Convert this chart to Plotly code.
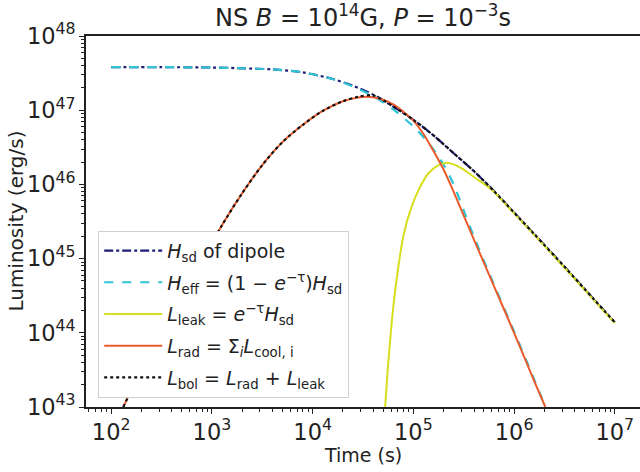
import plotly.graph_objects as go

# log10(time [s]) and log10(luminosity [erg/s])
t_sd = [2.0, 2.5, 3.0, 3.3, 3.6, 3.9, 4.2, 4.4, 4.6, 4.8, 5.0, 5.2, 5.4, 5.6, 5.8, 6.0, 6.2, 6.5, 6.8, 7.0]
L_sd = [47.58, 47.58, 47.575, 47.565, 47.55, 47.51, 47.42, 47.33, 47.21, 47.05, 46.87, 46.66, 46.42, 46.18, 45.91, 45.62, 45.33, 44.89, 44.44, 44.14]

t_eff = [2.0, 2.5, 3.0, 3.3, 3.6, 3.9, 4.2, 4.4, 4.6, 4.8, 5.0, 5.15, 5.25, 5.32, 5.4, 5.5, 5.6, 5.8, 6.0, 6.2, 6.31]
L_eff = [47.58, 47.58, 47.575, 47.565, 47.55, 47.51, 47.42, 47.32, 47.19, 47.01, 46.78, 46.56, 46.37, 46.22, 46.0, 45.65, 45.3, 44.65, 44.02, 43.37, 43.0]

t_leak = [4.72, 4.74, 4.76, 4.80, 4.85, 4.90, 4.97, 5.05, 5.15, 5.25, 5.32, 5.4, 5.5, 5.6, 5.74, 5.8, 6.0, 6.2, 6.5, 6.8, 7.0]
L_leak = [43.0, 43.4, 43.75, 44.34, 44.88, 45.3, 45.65, 45.92, 46.15, 46.26, 46.29, 46.27, 46.2, 46.1, 45.97, 45.9, 45.61, 45.32, 44.88, 44.43, 44.13]

t_rad = [2.12, 2.3, 2.5, 2.7, 2.9, 3.1, 3.3, 3.5, 3.7, 3.9, 4.1, 4.3, 4.45, 4.55, 4.65, 4.8, 4.9, 5.0, 5.1, 5.2, 5.3, 5.4, 5.5, 5.6, 5.8, 6.0, 6.2, 6.31]
L_rad = [43.0, 43.5, 44.0, 44.5, 44.97, 45.45, 45.88, 46.26, 46.57, 46.8, 46.99, 47.12, 47.17, 47.18, 47.16, 47.08, 46.98, 46.86, 46.68, 46.45, 46.2, 45.9, 45.58, 45.26, 44.63, 44.0, 43.35, 43.0]

t_bol = [2.12, 2.3, 2.5, 2.7, 2.9, 3.1, 3.3, 3.5, 3.7, 3.9, 4.1, 4.3, 4.45, 4.6, 4.8, 5.0, 5.2, 5.4, 5.6, 5.8, 6.0, 6.2, 6.5, 6.8, 7.0]
L_bol = [43.0, 43.5, 44.0, 44.5, 44.97, 45.45, 45.88, 46.26, 46.57, 46.8, 46.99, 47.12, 47.18, 47.2, 47.05, 46.87, 46.66, 46.42, 46.18, 45.91, 45.62, 45.33, 44.89, 44.44, 44.14]

names = [
    "<i>H</i><sub>sd</sub> of dipole",
    "<i>H</i><sub>eff</sub> = (1 − <i>e</i><sup>−τ</sup>)<i>H</i><sub>sd</sub>",
    "<i>L</i><sub>leak</sub> = <i>e</i><sup>−τ</sup><i>H</i><sub>sd</sub>",
    "<i>L</i><sub>rad</sub> = Σ<sub><i>i</i></sub><i>L</i><sub>cool, i</sub>",
    "<i>L</i><sub>bol</sub> = <i>L</i><sub>rad</sub> + <i>L</i><sub>leak</sub>",
]
series = [(t_sd, L_sd), (t_eff, L_eff), (t_leak, L_leak), (t_rad, L_rad), (t_bol, L_bol)]
colors = ["#1c1c78", "#2ec4d6", "#d6df1e", "#ea5a2c", "#111111"]
dashes = ["dashdot", "dash", "solid", "solid", "dot"]
widths = [2.2, 2.2, 2.0, 2.0, 2.2]

fig = go.Figure()
for k, ((tx, ly), nm, c, d, w) in enumerate(zip(series, names, colors, dashes, widths)):
    fig.add_trace(go.Scatter(
        x=[10 ** v for v in tx], y=[10 ** v for v in ly], name=nm, mode="lines",
        legendgroup=f"g{k}",
        line=dict(color=c, dash=d, width=w, shape="spline", smoothing=0.8),
    ))

font = "DejaVu Sans"
fig.update_layout(
    width=640, height=472,
    margin=dict(l=86, r=0, t=36, b=65),
    paper_bgcolor="white", plot_bgcolor="white",
    font=dict(family=font, size=18, color="#222"),
    title=dict(text="NS <i>B</i> = 10<sup>14</sup>G, <i>P</i> = 10<sup>−3</sup>s",
               x=0.5, xref="paper", y=0.962, yref="container", yanchor="middle",
               font=dict(size=24, color="#222")),
    legend=dict(x=0.022, y=0.025, xanchor="left", yanchor="bottom",
                bgcolor="white", bordercolor="#d0d0d0", borderwidth=1,
                font=dict(size=19, color="#222"), tracegroupgap=4, itemwidth=58),
    showlegend=True,
    annotations=[
        dict(text="Time (s)", xref="paper", yref="paper", x=0.5, y=-0.13,
             xanchor="center", yanchor="middle", showarrow=False, font=dict(size=19)),
        dict(text="Luminosity (erg/s)", xref="paper", yref="paper", x=-0.128, y=0.5,
             xanchor="center", yanchor="middle", textangle=-90, showarrow=False, font=dict(size=20)),
    ],
)
fig.update_xaxes(
    type="log", range=[1.75, 7.25], dtick=1, exponentformat="power",
    showgrid=False, zeroline=False, showline=True, linecolor="#222", linewidth=1.5,
    mirror=True, ticks="outside", ticklen=5, tickcolor="#222",
    minor=dict(ticks="outside", ticklen=3, dtick="D1", tickcolor="#222", showgrid=False),
    tickfont=dict(size=18),
)
fig.update_yaxes(
    type="log", range=[43, 48], dtick=1, exponentformat="power",
    showgrid=False, zeroline=False, showline=True, linecolor="#222", linewidth=1.5,
    mirror=False, ticks="outside", ticklen=5, tickcolor="#222",
    minor=dict(ticks="outside", ticklen=3, dtick="D1", tickcolor="#222", showgrid=False),
    tickfont=dict(size=18),
)
fig.write_html(
    "out.html",
    config={"displayModeBar": False},
    post_script="document.documentElement.style.margin='0';document.body.style.margin='0';"
                "document.body.style.overflow='hidden';",
)
